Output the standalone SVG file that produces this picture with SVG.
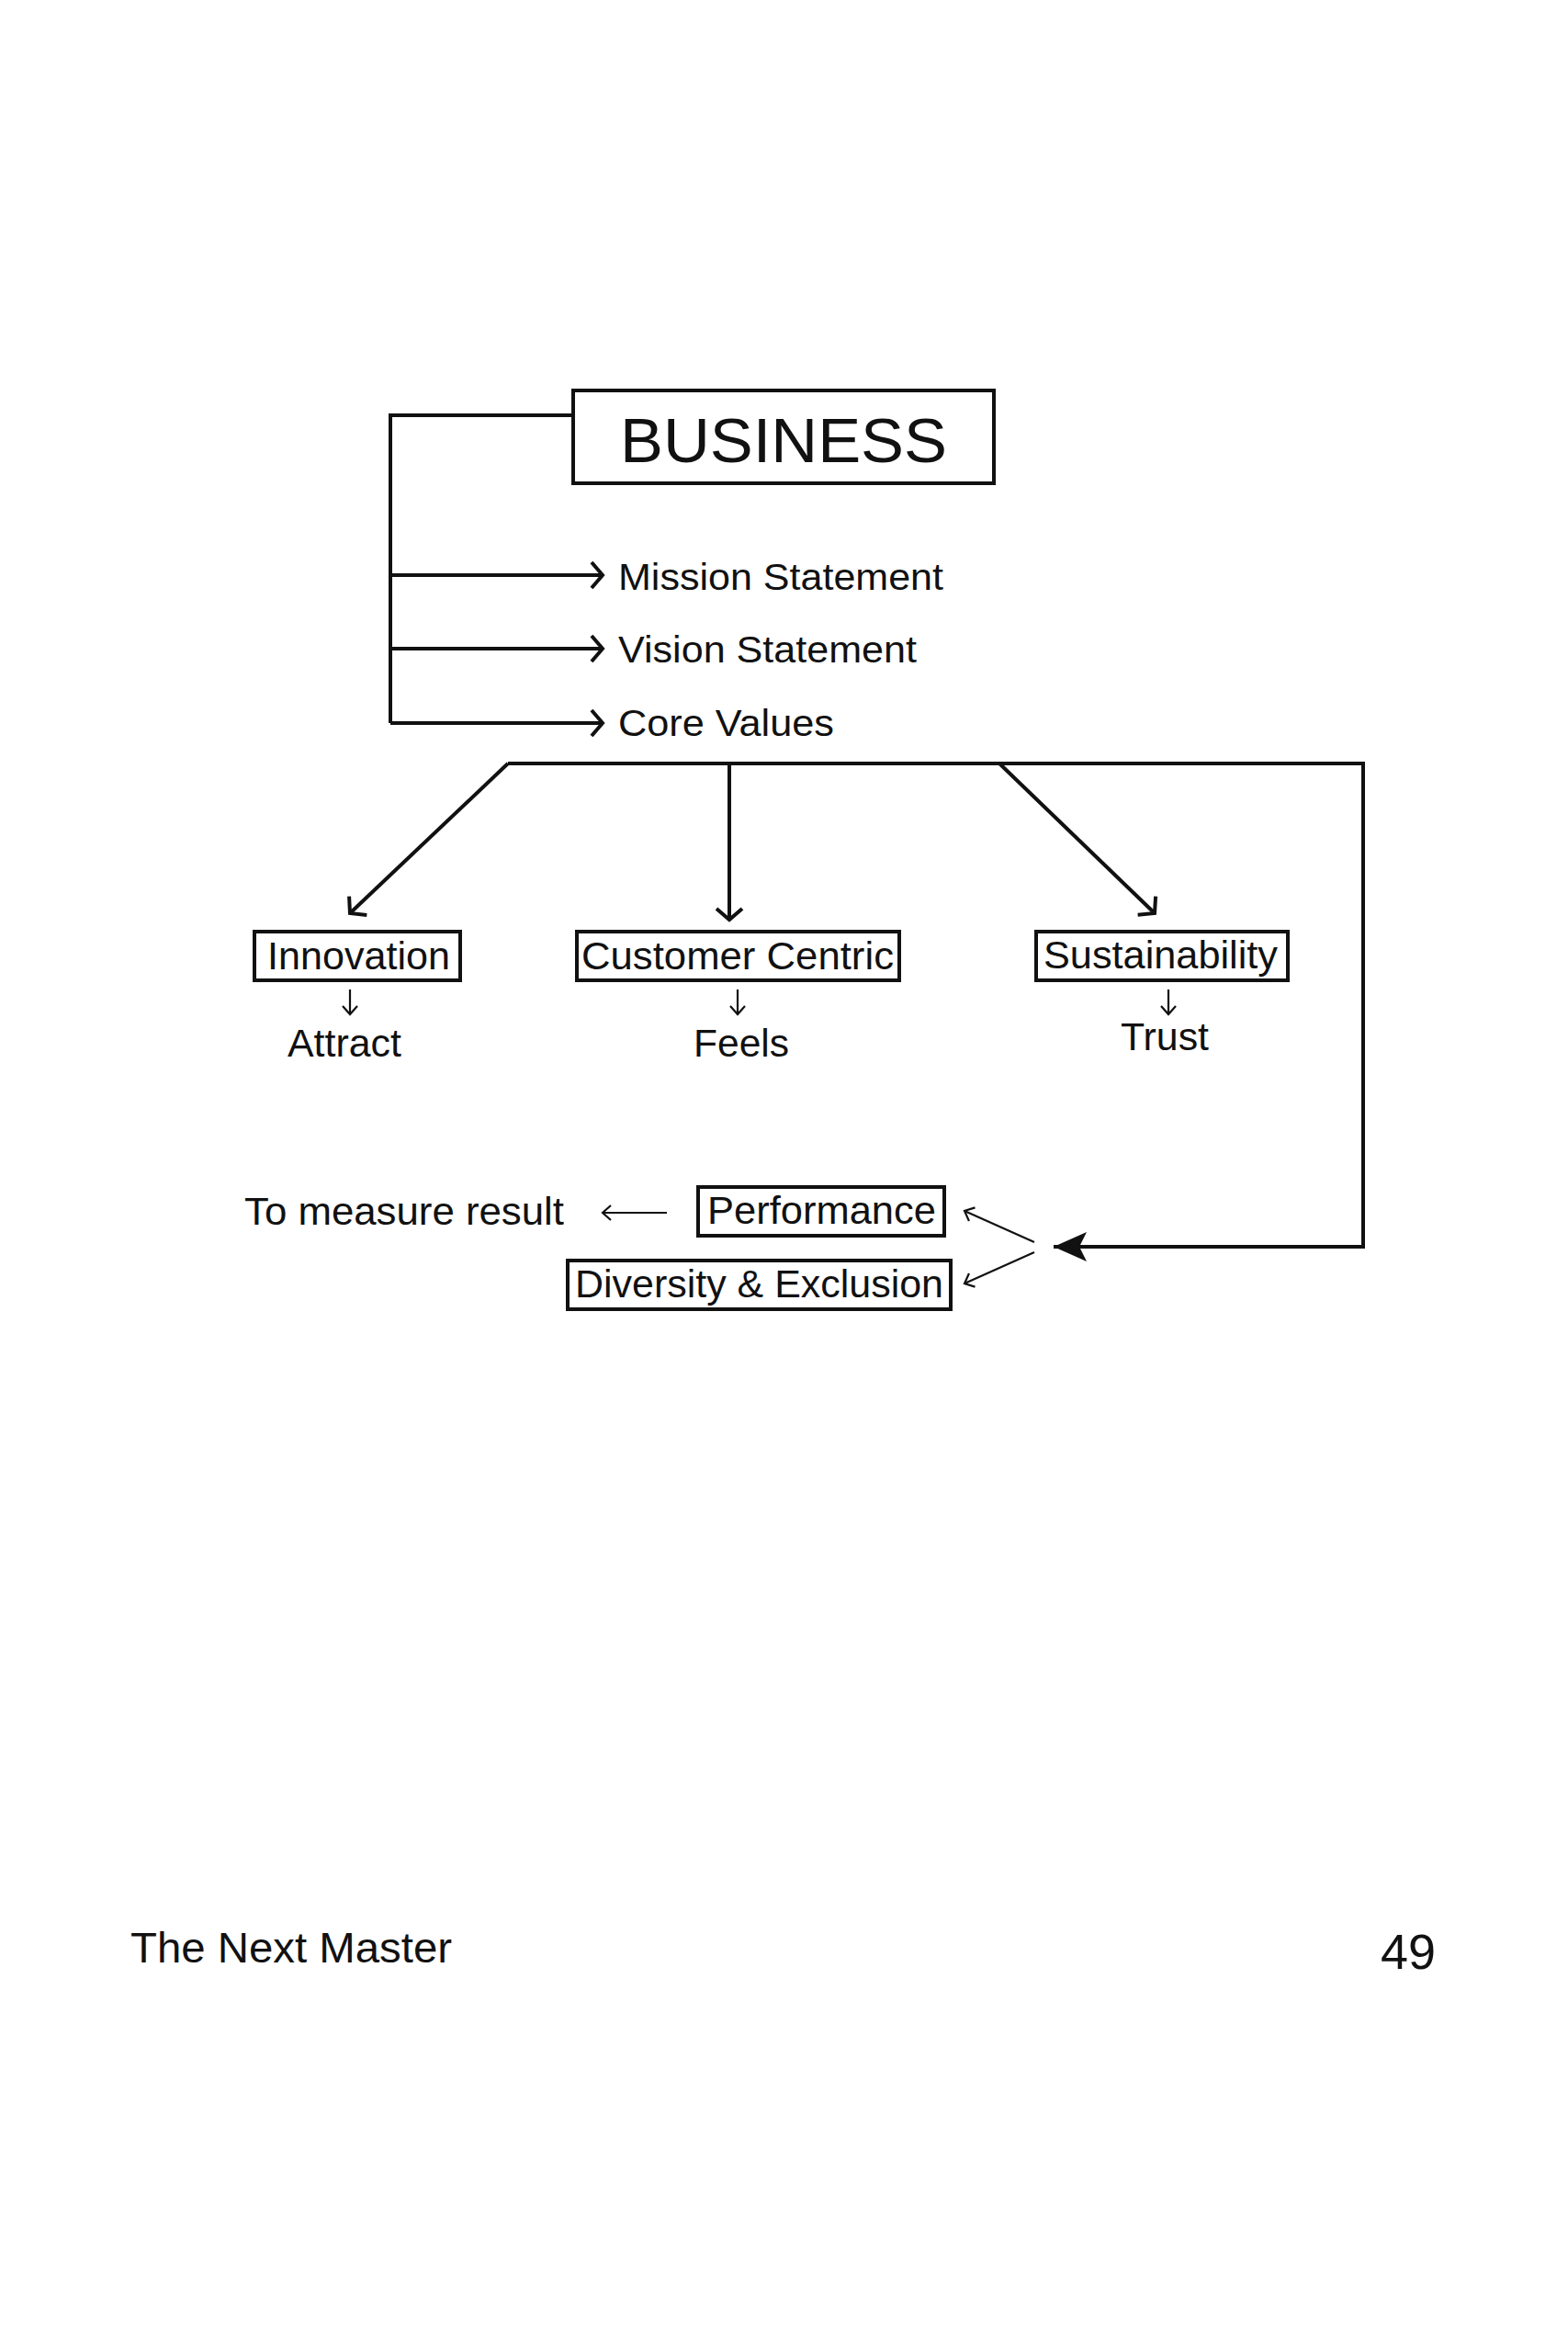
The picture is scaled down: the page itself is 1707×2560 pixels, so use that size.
<svg xmlns="http://www.w3.org/2000/svg" width="1707" height="2560" viewBox="0 0 1707 2560">
<style>
.t{font-family:"Liberation Sans",Arial,sans-serif;fill:#111}
.box{fill:#fff;stroke:#111;stroke-width:4}
.ln{fill:none;stroke:#111;stroke-width:4}
.thin{fill:none;stroke:#111;stroke-width:2.2}
</style>
<defs>
<marker id="open" markerUnits="userSpaceOnUse" markerWidth="40" markerHeight="40" refX="20" refY="20" orient="auto" viewBox="0 0 40 40">
<path d="M8,6 L20,20 L8,34" fill="none" stroke="#111" stroke-width="4"/>
</marker>
<marker id="small" markerUnits="userSpaceOnUse" markerWidth="30" markerHeight="30" refX="15" refY="15" orient="auto" viewBox="0 0 30 30">
<path d="M6,7 L15,15 L6,23" fill="none" stroke="#111" stroke-width="2.2"/>
</marker>
<marker id="filled" markerUnits="userSpaceOnUse" markerWidth="50" markerHeight="50" refX="40" refY="25" orient="auto" viewBox="0 0 50 50">
<path d="M40,25 L4,9 L12,25 L4,41 Z" fill="#111"/>
</marker>
</defs>
<rect width="1707" height="2560" fill="#fff"/>
<g id="connectors">
<path class="ln" d="M624,452 H425 V787"/>
<path class="ln" d="M425,626 H656" marker-end="url(#open)"/>
<path class="ln" d="M425,706 H656" marker-end="url(#open)"/>
<path class="ln" d="M425,787 H656" marker-end="url(#open)"/>
<path class="ln" d="M553,831 H1484 V1357 H1147" marker-end="url(#filled)"/>
<path class="ln" d="M553,831 L381,994" marker-end="url(#open)"/>
<path class="ln" d="M794,831 V1001" marker-end="url(#open)"/>
<path class="ln" d="M1088,831 L1257,994" marker-end="url(#open)"/>
<path class="thin" d="M381,1077 V1104" marker-end="url(#small)"/>
<path class="thin" d="M803,1077 V1104" marker-end="url(#small)"/>
<path class="thin" d="M1272,1077 V1104" marker-end="url(#small)"/>
<path class="thin" d="M726,1320 H656" marker-end="url(#small)"/>
<path class="thin" d="M1126,1352 L1050,1318" marker-end="url(#small)"/>
<path class="thin" d="M1126,1363 L1050,1397" marker-end="url(#small)"/>
</g>
<g id="business">
<rect class="box" x="624" y="425" width="458" height="101"/>
<text class="t" x="675" y="503" font-size="68" textLength="356" lengthAdjust="spacingAndGlyphs">BUSINESS</text>
</g>
<g id="mission"><text class="t" x="673" y="642" font-size="41" textLength="354" lengthAdjust="spacingAndGlyphs">Mission Statement</text></g>
<g id="vision"><text class="t" x="673" y="721" font-size="41" textLength="325" lengthAdjust="spacingAndGlyphs">Vision Statement</text></g>
<g id="core"><text class="t" x="673" y="801" font-size="41" textLength="235" lengthAdjust="spacingAndGlyphs">Core Values</text></g>
<g id="innovation">
<rect class="box" x="277" y="1014" width="224" height="53"/>
<text class="t" x="291" y="1055" font-size="42" textLength="199" lengthAdjust="spacingAndGlyphs">Innovation</text>
</g>
<g id="customer">
<rect class="box" x="628" y="1014" width="351" height="53"/>
<text class="t" x="633" y="1055" font-size="42" textLength="340" lengthAdjust="spacingAndGlyphs">Customer Centric</text>
</g>
<g id="sustainability">
<rect class="box" x="1128" y="1014" width="274" height="53"/>
<text class="t" x="1136" y="1054" font-size="42" textLength="255" lengthAdjust="spacingAndGlyphs">Sustainability</text>
</g>
<g id="attract"><text class="t" x="313" y="1150" font-size="42" textLength="124" lengthAdjust="spacingAndGlyphs">Attract</text></g>
<g id="feels"><text class="t" x="755" y="1150" font-size="42" textLength="104" lengthAdjust="spacingAndGlyphs">Feels</text></g>
<g id="trust"><text class="t" x="1220" y="1143" font-size="42" textLength="96" lengthAdjust="spacingAndGlyphs">Trust</text></g>
<g id="measure"><text class="t" x="266" y="1333" font-size="42" textLength="348" lengthAdjust="spacingAndGlyphs">To measure result</text></g>
<g id="performance">
<rect class="box" x="760" y="1292" width="268" height="53"/>
<text class="t" x="770" y="1332" font-size="42" textLength="249" lengthAdjust="spacingAndGlyphs">Performance</text>
</g>
<g id="diversity">
<rect class="box" x="618" y="1372" width="417" height="53"/>
<text class="t" x="626" y="1412" font-size="42" textLength="401" lengthAdjust="spacingAndGlyphs">Diversity &amp; Exclusion</text>
</g>
<g id="footer">
<text class="t" x="142" y="2136" font-size="47" textLength="350" lengthAdjust="spacingAndGlyphs">The Next Master</text>
<text class="t" x="1503" y="2143" font-size="53" textLength="60" lengthAdjust="spacingAndGlyphs">49</text>
</g>
</svg>
